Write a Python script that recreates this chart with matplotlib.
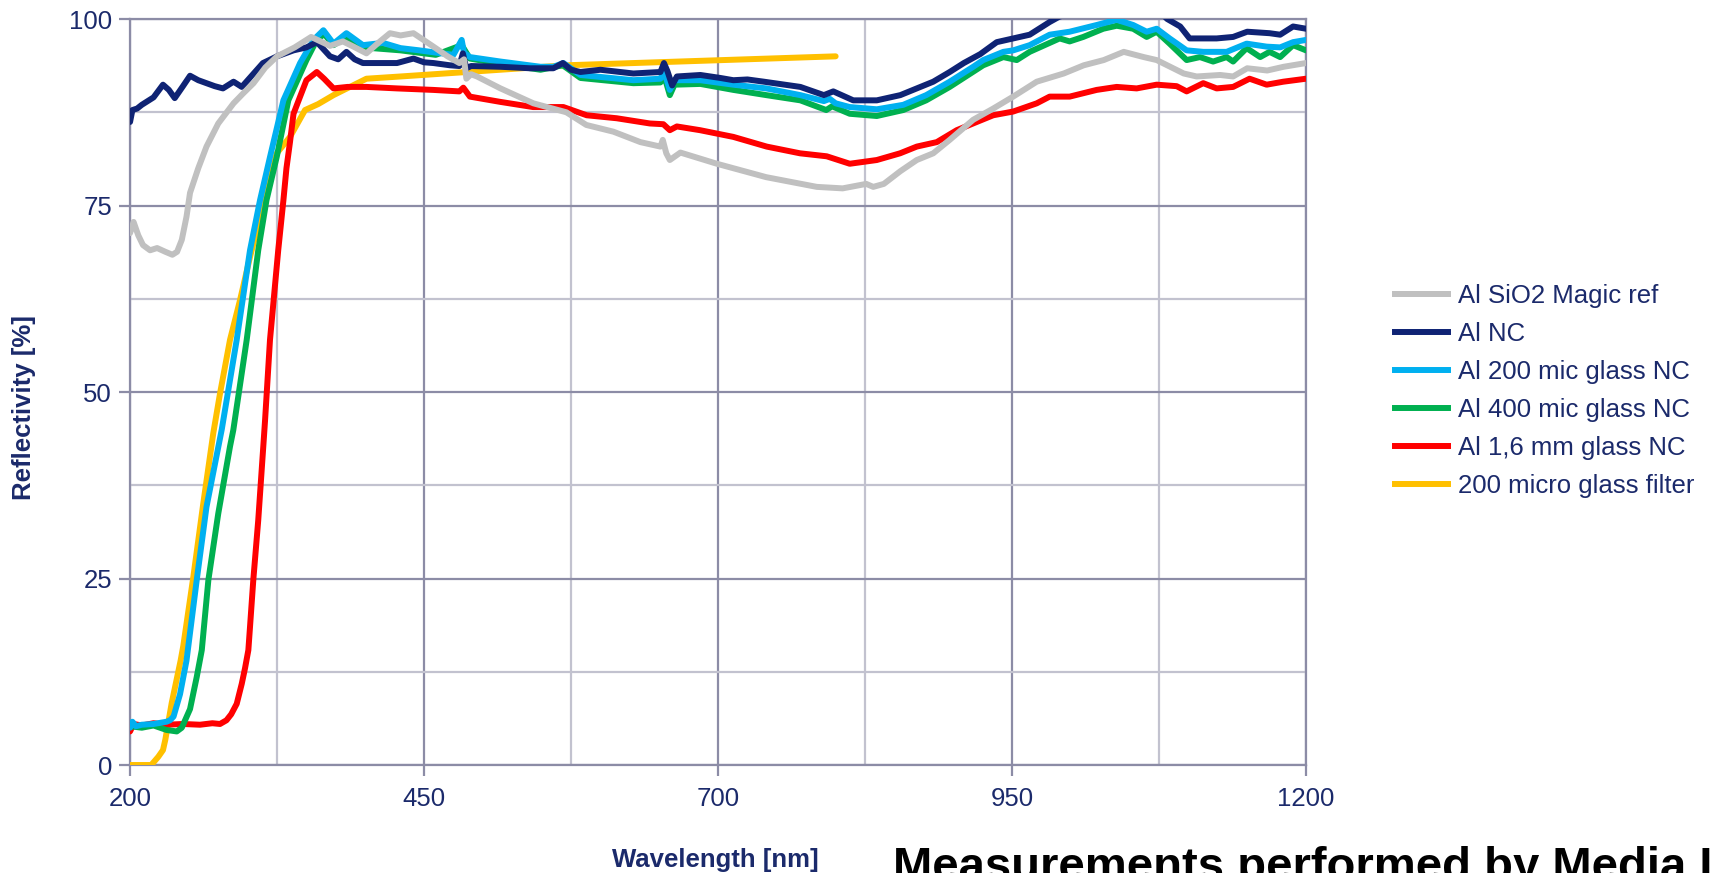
import matplotlib
matplotlib.use("Agg")
import matplotlib.pyplot as plt
from matplotlib.lines import Line2D

# ---------------- data ----------------
grey_x = [200, 203, 207, 211, 217, 223, 230, 236, 240, 244, 248, 251, 258, 265, 275, 288, 296, 305, 315, 325,
          340, 354, 362, 370, 381, 390, 401, 411, 421, 430, 441, 458, 470, 480, 484, 486, 490, 495, 515, 543,
          571, 588, 611, 634, 651, 653, 656, 659, 668, 699, 741, 784, 806, 826, 832, 841, 855, 869, 883, 897,
          917, 934, 951, 971, 994, 1011, 1028, 1045, 1062, 1073, 1096, 1107, 1127, 1138, 1150, 1167, 1181, 1200]
grey_y = [71.3, 72.8, 71.0, 69.7, 69.0, 69.3, 68.8, 68.4, 68.8, 70.4, 73.5, 76.7, 80.0, 82.9, 86.0, 88.7, 90.0, 91.4, 93.5, 95.0,
          96.2, 97.6, 97.0, 96.4, 97.0, 96.3, 95.4, 96.8, 98.1, 97.8, 98.1, 96.3, 95.0, 94.1, 94.6, 92.0, 92.6, 92.3, 90.7, 88.7,
          87.5, 85.8, 84.9, 83.5, 82.9, 83.8, 82.0, 81.1, 82.1, 80.6, 78.8, 77.5, 77.3, 77.9, 77.5, 77.9, 79.6, 81.1, 82.0, 83.8,
          86.5, 88.0, 89.6, 91.6, 92.7, 93.8, 94.5, 95.6, 94.9, 94.5, 92.7, 92.3, 92.5, 92.3, 93.4, 93.1, 93.6, 94.1]

navy_x = [200, 202, 206, 210, 214, 220, 228, 233, 238, 245, 251, 258, 265, 272, 279, 288, 295, 304, 313, 325,
          339, 350, 359, 370, 377, 384, 391, 398, 410, 427, 441, 450, 458, 472, 480, 483, 486, 490, 515, 540,
          560, 568, 575, 583, 600, 628, 651, 654, 657, 661, 665, 685, 702, 713, 725, 739, 770, 790, 798, 815,
          835, 855, 869, 883, 897, 909, 923, 937, 951, 965, 982, 990, 1000, 1020, 1040, 1060, 1078, 1082, 1093, 1101,
          1124, 1138, 1150, 1169, 1178, 1189, 1200]
navy_y = [86.2, 87.8, 88.0, 88.5, 88.9, 89.5, 91.2, 90.5, 89.4, 91.0, 92.4, 91.8, 91.4, 91.0, 90.7, 91.6, 90.9, 92.5, 94.1, 95.0,
          95.8, 96.2, 96.9, 95.0, 94.6, 95.6, 94.6, 94.1, 94.1, 94.1, 94.7, 94.2, 94.1, 93.8, 93.7, 95.4, 93.4, 93.7, 93.6, 93.4,
          93.4, 94.1, 93.2, 92.9, 93.2, 92.7, 92.9, 94.1, 93.0, 91.1, 92.3, 92.5, 92.1, 91.8, 91.9, 91.6, 90.9, 89.8, 90.3, 89.1,
          89.1, 89.8, 90.7, 91.6, 92.9, 94.1, 95.3, 96.9, 97.4, 97.9, 99.6, 100.3, 100.8, 101.2, 101.5, 101.3, 100.6, 100.0, 99.0, 97.4,
          97.4, 97.6, 98.3, 98.1, 97.9, 99.0, 98.7]

cyan_x = [200, 202, 205, 210, 220, 231, 234, 237, 242.5, 248, 256.7, 265, 278, 290.7, 302, 310.5, 319, 330.4, 344.6, 356,
          364.4, 373, 384, 398, 415, 430, 446, 460, 475, 482, 484, 489, 515, 549, 560, 568.5, 583, 628, 651, 654,
          659, 663, 685, 713, 741, 770, 790, 795, 800, 812, 835, 857.5, 877, 897, 917, 925.5, 942.6, 951, 965, 982,
          999, 1022, 1039, 1053, 1064.5, 1073, 1084, 1098.5, 1112.6, 1132.5, 1149.5, 1166.5, 1178, 1189, 1200]
cyan_y = [5.0, 5.8, 5.2, 5.4, 5.5, 5.8, 6.0, 6.5, 9.5, 14.0, 24.8, 34.6, 45.0, 57.0, 69.0, 75.7, 81.5, 89.1, 94.1, 97.2,
          98.5, 96.7, 98.1, 96.5, 96.8, 96.1, 95.8, 95.5, 95.2, 97.2, 95.5, 94.9, 94.3, 93.6, 93.6, 94.1, 92.5, 91.8, 92.0, 93.0,
          90.5, 91.8, 91.8, 91.2, 90.7, 89.8, 89.0, 89.3, 88.7, 88.2, 87.9, 88.5, 89.8, 91.6, 93.6, 94.5, 95.6, 95.8, 96.5, 97.9,
          98.3, 99.2, 99.9, 99.2, 98.3, 98.7, 97.4, 95.8, 95.6, 95.6, 96.7, 96.3, 96.2, 96.9, 97.2]

green_x = [200, 210, 220, 231, 239.7, 244, 248.2, 251, 256.7, 261, 266.6, 275, 285, 287.8, 299.2, 309, 316, 324.7, 334.6, 350,
           358.8, 365, 373, 384, 398, 430, 460, 482, 489, 515, 549, 568, 583, 628, 651, 654, 659, 663, 685, 713,
           741, 770, 792, 797, 812, 835, 857.5, 877, 897, 925.5, 942.6, 954, 965, 990.5, 999, 1010.6, 1027.6, 1039, 1053, 1064.5,
           1073, 1084, 1098.5, 1109.8, 1121, 1132.5, 1138, 1149.5, 1161, 1169, 1178, 1189, 1200]
green_y = [5.2, 5.0, 5.3, 4.7, 4.5, 5.0, 6.5, 7.5, 11.8, 15.4, 24.8, 33.7, 42.7, 44.9, 57.0, 69.0, 75.7, 81.5, 89.1, 94.5,
           97.2, 98.0, 96.5, 97.6, 96.2, 95.8, 95.2, 96.5, 94.7, 94.0, 93.2, 93.8, 92.1, 91.4, 91.5, 92.5, 89.8, 91.2, 91.3, 90.5,
           89.8, 89.1, 87.8, 88.3, 87.3, 87.0, 87.8, 89.1, 90.9, 93.8, 94.9, 94.5, 95.6, 97.4, 97.0, 97.6, 98.7, 99.1, 98.7, 97.6,
           98.3, 96.7, 94.5, 94.9, 94.3, 94.9, 94.3, 96.1, 94.9, 95.6, 94.9, 96.5, 95.8]

red_x = [200, 203, 210, 220, 231, 245, 259.5, 270, 276.5, 282, 286, 290.7, 295, 297.8, 300.6, 302, 304.8, 309, 313.3, 314.8,
         319, 326, 330.4, 333, 336, 339, 344.6, 350, 358.8, 365, 373, 385, 401, 427, 457.6, 480, 483.4, 489, 514.6, 542.7,
         568.5, 588.3, 613.8, 642, 653.5, 659, 665, 684.7, 713, 741.4, 769.7, 792.4, 812, 835, 854.8, 869, 886, 903, 920, 934,
         951, 971, 982, 999, 1022, 1039, 1056, 1073, 1090, 1098.5, 1112.6, 1124, 1138, 1152, 1166.5, 1180.7, 1200]
red_y = [4.5, 5.5, 5.3, 5.6, 5.4, 5.5, 5.4, 5.6, 5.5, 6.0, 6.8, 8.2, 10.9, 13.0, 15.4, 18.5, 24.8, 32.8, 42.7, 46.2,
         57.0, 69.0, 75.7, 80.0, 83.5, 87.3, 89.6, 91.8, 92.9, 92.0, 90.7, 90.9, 90.9, 90.7, 90.5, 90.3, 90.8, 89.6, 88.9, 88.2,
         88.2, 87.1, 86.7, 86.0, 85.9, 85.1, 85.6, 85.1, 84.2, 82.9, 82.0, 81.6, 80.6, 81.1, 82.0, 82.9, 83.5, 85.1, 86.2, 87.1,
         87.6, 88.7, 89.6, 89.6, 90.5, 90.9, 90.7, 91.2, 91.0, 90.3, 91.4, 90.7, 90.9, 92.0, 91.2, 91.6, 92.0]

yellow_x = [200, 218, 224, 228, 230, 235.4, 243, 245.3, 253.8, 262.3, 270.8, 276.5, 285, 293.5, 302, 313, 324.7, 336, 348.8, 360,
            373, 401, 430, 571, 800]
yellow_y = [0.0, 0.0, 1.1, 2.0, 3.4, 8.3, 14.0, 16.0, 25.2, 35.1, 44.5, 49.8, 57.0, 62.3, 68.1, 75.0, 82.0, 84.2, 87.8, 88.6,
            89.8, 92.0, 92.3, 93.8, 95.0]

labels = ["Al SiO2 Magic ref", "Al NC", "Al 200 mic glass NC", "Al 400 mic glass NC",
          "Al 1,6 mm glass NC", "200 micro glass filter"]
colors = ["#c0c0c0", "#0f2374", "#00b0f0", "#00b050", "#ff0000", "#ffc000"]

x_ticks = [200, 450, 700, 950, 1200]
y_ticks = [0, 25, 50, 75, 100]

# ---------------- figure ----------------
plt.rcParams['font.family'] = ['Liberation Sans', 'DejaVu Sans']
navy_txt = "#1b2a6b"
major_c = "#8c8ca6"
minor_c = "#c2c2cf"

fig = plt.figure(figsize=(17.18, 8.73), dpi=100)
ax = fig.add_axes([0.0757, 0.1237, 0.6845, 0.8545])

lw = 4.3
series = [(grey_x, grey_y), (navy_x, navy_y), (cyan_x, cyan_y),
          (green_x, green_y), (red_x, red_y), (yellow_x, yellow_y)]
zorders = [8, 7, 6, 5, 4, 3]
for (xs, ys), c, z in zip(series, colors, zorders):
    ax.plot(xs, ys, color=c, lw=lw, solid_joinstyle='round', solid_capstyle='round', zorder=z)

ax.set_xlim(200, 1200)
ax.set_ylim(0, 100)
ax.set_xticks(x_ticks)
ax.set_yticks(y_ticks)
ax.set_xticks([325, 575, 825, 1075], minor=True)
ax.set_yticks([12.5, 37.5, 62.5, 87.5], minor=True)
ax.grid(True, which='major', color=major_c, lw=1.6, zorder=1)
ax.grid(True, which='minor', color=minor_c, lw=1.6, zorder=1)
ax.set_axisbelow(True)
ax.tick_params(which='major', direction='out', length=8, width=1.6, color=major_c,
               labelsize=18.5, labelcolor=navy_txt)
ax.tick_params(axis='x', which='major', pad=8)
ax.tick_params(axis='y', which='major', pad=5)
ax.tick_params(which='minor', length=0)
for s in ax.spines.values():
    s.set_color(major_c)
    s.set_linewidth(1.6)

fig.text(24 / 1718, 1 - 408 / 873, "Reflectivity [%]", rotation=90, ha='center', va='center',
         fontsize=18.5, fontweight='bold', color=navy_txt)
fig.text(715 / 1718, 1 - 860 / 873, "Wavelength [nm]", ha='center', va='center',
         fontsize=18.5, fontweight='bold', color=navy_txt)
fig.text(893 / 1718, 1 - 880 / 873, "Measurements performed by Media Lario", ha='left', va='baseline',
         fontsize=34, fontweight='bold', color='black')

handles = [Line2D([0], [0], color=c, lw=lw) for c in colors]
fig.legend(handles, labels, loc='center left', bbox_to_anchor=(1395 / 1718, 1 - 391 / 873),
           frameon=False, fontsize=18.5, handlelength=2.05, handletextpad=0.4,
           labelspacing=0.54, labelcolor=navy_txt, borderaxespad=0, borderpad=0)

fig.savefig("out.png", dpi=100)
